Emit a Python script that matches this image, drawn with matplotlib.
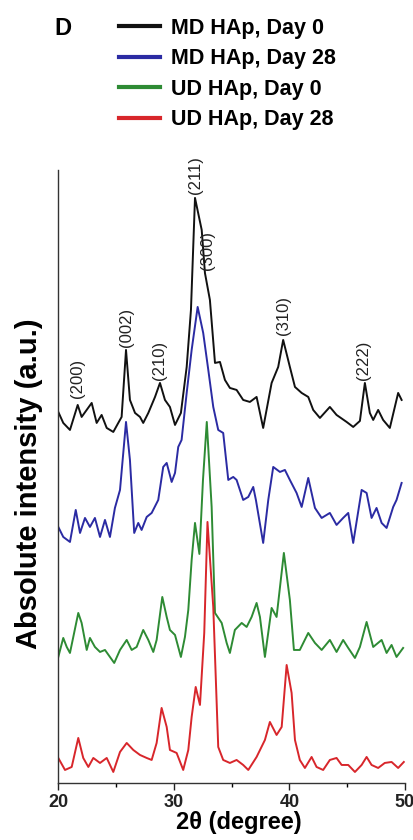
import numpy as np
import matplotlib
matplotlib.use("Agg")
import matplotlib.pyplot as plt

plt.rcParams['font.family'] = ['Liberation Sans', 'DejaVu Sans']

# ===== Data =====
# 2-theta (degree) and absolute intensity (a.u., stacked traces)
md0_x = [20.00, 20.43, 21.01, 21.68, 22.02, 22.89, 23.32, 23.75, 24.19, 24.76, 25.19, 25.48,
         25.86, 26.20, 26.64, 27.07, 27.35, 27.79, 28.37, 28.80, 29.23, 29.66, 30.10, 30.61,
         31.11, 31.48, 31.83, 32.41, 32.69, 33.12, 33.56, 33.99, 34.42, 34.85, 35.43, 36.00,
         36.58, 37.16, 37.73, 38.46, 39.03, 39.46, 40.04, 40.48, 41.06, 41.63, 42.06, 42.64,
         43.50, 44.08, 44.95, 45.52, 46.10, 46.53, 46.96, 47.25, 47.68, 48.11, 48.69, 49.41, 49.71]
md0_y = [371, 360, 353, 378, 366, 380, 360, 368, 355, 351, 360, 366,
         433, 383, 370, 366, 360, 370, 386, 400, 383, 376, 358, 370,
         416, 473, 585, 553, 510, 483, 420, 421, 403, 395, 393, 383,
         381, 386, 355, 400, 416, 443, 416, 396, 390, 386, 373, 365,
         376, 368, 361, 356, 362, 400, 370, 363, 373, 363, 355, 390, 383]

md28_x = [20.00, 20.43, 21.01, 21.51, 21.88, 22.31, 22.74, 23.17, 23.61, 24.04, 24.47, 24.90,
          25.34, 25.86, 26.20, 26.57, 26.92, 27.21, 27.65, 28.08, 28.65, 29.08, 29.38, 29.81,
          30.10, 30.38, 30.67, 31.11, 31.54, 32.06, 32.54, 32.98, 33.41, 33.84, 34.27, 34.71,
          35.14, 35.43, 36.00, 36.44, 36.87, 37.10, 37.73, 38.17, 38.60, 39.18, 39.61, 40.04,
          40.62, 41.06, 41.63, 42.21, 42.79, 43.50, 44.08, 44.65, 45.09, 45.52, 46.25, 46.68,
          47.11, 47.54, 47.98, 48.41, 48.98, 49.27, 49.71]
md28_y = [256, 246, 241, 273, 250, 265, 256, 265, 246, 263, 246, 275,
          293, 361, 323, 250, 260, 253, 266, 270, 283, 316, 320, 301,
          310, 336, 343, 390, 433, 476, 450, 413, 376, 353, 350, 303,
          306, 303, 283, 286, 296, 283, 240, 283, 316, 311, 313, 303,
          290, 276, 305, 275, 265, 270, 258, 265, 270, 240, 293, 290,
          265, 275, 260, 255, 276, 283, 300]

ud0_x = [20.00, 20.43, 20.73, 21.01, 21.73, 22.02, 22.46, 22.74, 23.17, 23.61, 24.04, 24.47,
         24.84, 25.34, 25.92, 26.35, 26.78, 27.35, 27.79, 28.22, 28.51, 29.00, 29.38, 29.66,
         30.10, 30.61, 30.96, 31.25, 31.54, 31.83, 32.21, 32.52, 32.85, 33.27, 33.56, 34.14,
         34.57, 34.85, 35.28, 35.87, 36.30, 36.73, 37.16, 37.45, 37.88, 38.46, 38.89, 39.52,
         40.04, 40.39, 40.90, 41.63, 42.21, 42.79, 43.50, 44.08, 44.65, 45.09, 45.67, 46.10,
         46.68, 47.25, 47.98, 48.41, 48.84, 49.27, 49.84]
ud0_y = [126, 145, 136, 130, 170, 160, 133, 145, 136, 131, 133, 126,
         120, 133, 143, 133, 136, 153, 143, 131, 143, 186, 166, 153,
         148, 126, 146, 173, 223, 260, 229, 303, 361, 276, 170, 160,
         140, 130, 153, 160, 156, 166, 180, 166, 126, 175, 166, 230,
         183, 133, 133, 150, 140, 133, 143, 131, 143, 135, 125, 136,
         161, 136, 143, 130, 138, 126, 135]

ud28_x = [20.00, 20.58, 21.16, 21.73, 22.16, 22.60, 23.03, 23.61, 24.19, 24.76, 25.34, 25.92,
          26.49, 27.07, 27.65, 28.08, 28.51, 28.94, 29.38, 29.66, 30.24, 30.81, 31.25, 31.54,
          31.89, 32.26, 32.63, 32.91, 33.41, 33.84, 34.27, 34.85, 35.43, 36.00, 36.44, 37.16,
          37.88, 38.31, 38.89, 39.33, 39.76, 40.19, 40.48, 40.90, 41.34, 41.92, 42.35, 42.92,
          43.50, 44.08, 44.52, 45.09, 45.67, 46.25, 46.68, 47.11, 47.68, 48.25, 48.84, 49.41, 49.90]
ud28_y = [25, 13, 16, 45, 25, 16, 25, 20, 25, 11, 31, 40,
          33, 28, 25, 23, 40, 75, 56, 33, 30, 13, 33, 66,
          96, 78, 150, 261, 176, 36, 23, 20, 23, 18, 13, 26,
          43, 61, 48, 56, 118, 90, 43, 23, 15, 26, 16, 13,
          23, 25, 18, 18, 11, 18, 26, 18, 15, 20, 21, 15, 21]

series_labels = ['MD HAp, Day 0', 'MD HAp, Day 28', 'UD HAp, Day 0', 'UD HAp, Day 28']
series_colors = ['#111111', '#2b2ba3', '#2e8b34', '#d8262b']

# Miller indices and label anchor (2theta, intensity at label base)
peak_names = ['(200)', '(002)', '(210)', '(211)', '(300)', '(310)', '(222)']
peak_x = [21.68, 25.86, 28.80, 31.83, 32.88, 39.46, 46.38]
peak_y = [385, 436, 403, 589, 513, 448, 403]

# ===== Plot =====
fig = plt.figure(figsize=(4.14, 8.4), dpi=100)
ax = fig.add_axes([0.1408, 0.0679, 0.8374, 0.7298])

lines = []
for xs, ys, c, lab in zip([md0_x, md28_x, ud0_x, ud28_x], [md0_y, md28_y, ud0_y, ud28_y],
                          series_colors, series_labels):
    ln, = ax.plot(xs, ys, color=c, lw=1.4, label=lab)
    lines.append(ln)

for name, px, py in zip(peak_names, peak_x, peak_y):
    ax.text(px, py, name, rotation=90, ha='center', va='bottom', fontsize=12, color='#222222')

ax.set_xlim(20, 50)
ax.set_ylim(0, 613)
ax.set_xticks([20, 30, 40, 50])
ax.set_xticks([25, 35, 45], minor=True)
ax.set_yticks([])
ax.tick_params(axis='x', which='major', direction='out', length=5, width=1, pad=3,
               labelsize=13, colors='#222222')
ax.tick_params(axis='x', which='minor', direction='out', length=3, width=1)
for lbl in ax.get_xticklabels():
    lbl.set_fontweight('bold')

for side in ['top', 'right']:
    ax.spines[side].set_visible(False)
for side in ['left', 'bottom']:
    ax.spines[side].set_color('#333333')
    ax.spines[side].set_linewidth(1.0)

ax.set_xlabel('2θ (degree)', fontsize=17, fontweight='bold')
ax.xaxis.set_label_coords(0.521, -0.045)
ax.set_ylabel('Absolute intensity (a.u.)', fontsize=21, fontweight='bold')
ax.yaxis.set_label_coords(-0.045, 0.489)

leg = fig.legend(handles=lines, loc='upper left', bbox_to_anchor=(0.288, 0.979),
                 frameon=False, handlelength=1.9, handletextpad=0.5,
                 labelspacing=0.44, borderpad=0, borderaxespad=0,
                 prop={'weight': 'bold', 'size': 15.5})
for h in leg.legend_handles:
    h.set_linewidth(3.0)

fig.text(0.151, 0.966, 'D', fontsize=17, fontweight='bold', ha='center', va='center')

fig.savefig('out.png', dpi=100)
